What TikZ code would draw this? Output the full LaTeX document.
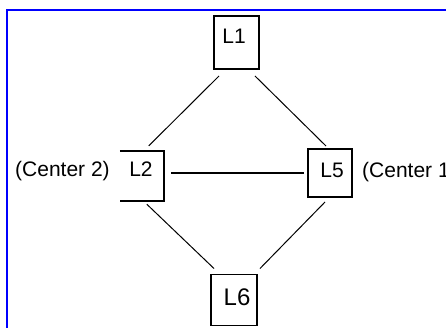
\documentclass[tikz,border=0pt]{standalone}
\usepackage{fontspec}
\setmainfont{Liberation Sans}
\begin{document}
\begin{tikzpicture}[x=1pt,y=-1pt,
  boxframe/.style={draw=black,line width=1.8pt,inner sep=0pt},
  lab/.style={font=\fontsize{21}{24}\selectfont,anchor=base,inner sep=0pt},
  biglab/.style={font=\fontsize{24}{27}\selectfont,anchor=base,inner sep=0pt},
  link/.style={line width=1pt},
  thick link/.style={line width=2pt}]
\useasboundingbox (0,0) rectangle (446,327);
\clip (0,0) rectangle (446,327);
\fill[white] (0,0) rectangle (446,327);
% blue frame
\draw[blue,line width=2pt] (7,340) -- (7,10) -- (460,10);
% boxes
\node[boxframe,fit/.style={},minimum width=45pt,minimum height=53pt] (L1) at (236.5,42.5) {};
\node[draw=none,minimum width=44pt,minimum height=50pt,inner sep=0pt] (L2) at (142,176) {};
\draw[line width=1.8pt] (L2.north west) -- (L2.north east) -- (L2.south east) -- (L2.south west);
\node[boxframe,minimum width=44pt,minimum height=48pt] (L5) at (330,173) {};
\node[boxframe,minimum width=46pt,minimum height=51pt] (L6) at (234,300) {};
% labels
\node[lab] (t1) at (234,43) {L1};
\node[lab] (t2) at (141,176) {L2};
\node[lab] (t5) at (332,177) {L5};
\node[biglab] (t6) at (237,305) {L6};
\node[lab,anchor=base west] (c2) at (15,176) {(Center 2)};
\node[lab,anchor=base west] (c1) at (362,177) {(Center 1};
% connectors
\draw[link] ([xshift=6pt,yshift=-6pt]L1.south west) -- ([xshift=29pt,yshift=5pt]L2.north west);
\draw[link] ([xshift=-5pt,yshift=-6pt]L1.south east) -- ([xshift=19pt,yshift=2pt]L5.north west);
\draw[thick link] ([xshift=7pt,yshift=3pt]L2.east) -- ([xshift=-3pt]L5.west);
\draw[link] ([xshift=27pt,yshift=-3pt]L2.south west) -- ([xshift=4pt,yshift=5pt]L6.north west);
\draw[link] ([xshift=18pt,yshift=-4pt]L5.south west) -- ([xshift=2pt,yshift=5pt]L6.north east);
\end{tikzpicture}
\end{document}
